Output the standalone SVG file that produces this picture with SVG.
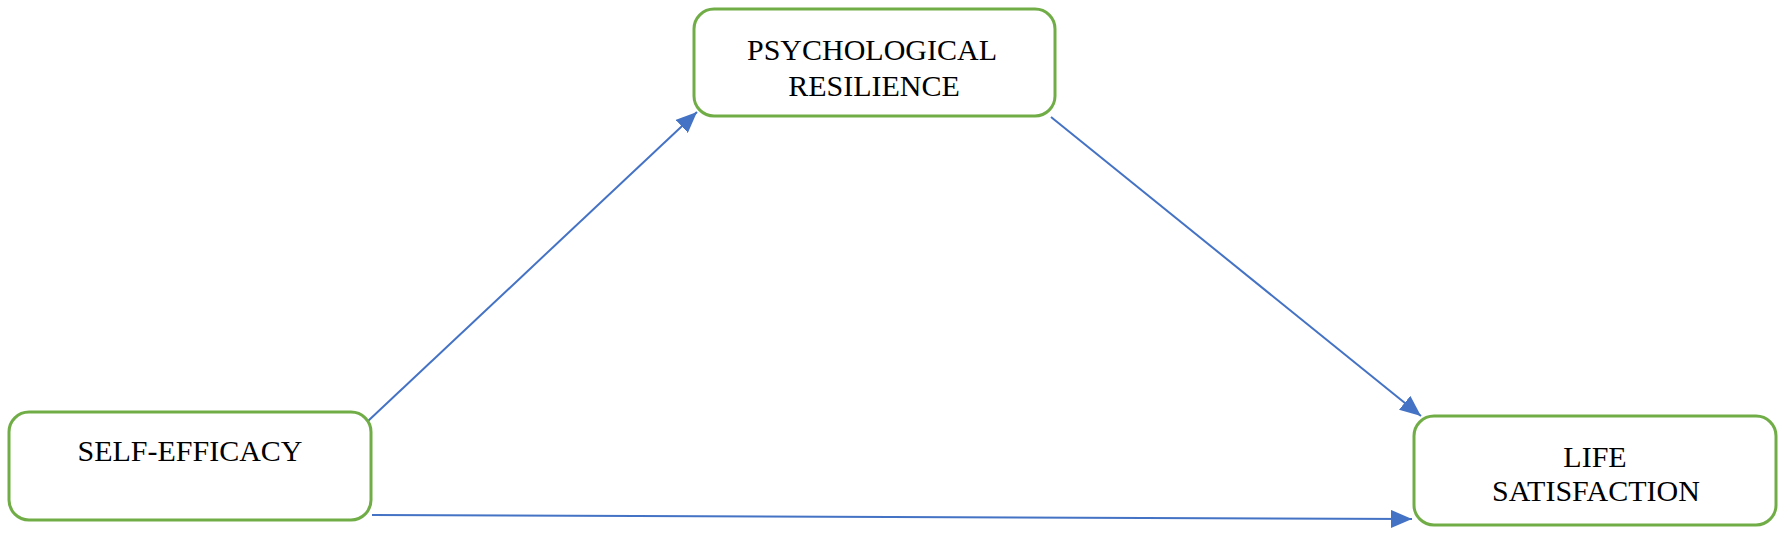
<svg xmlns="http://www.w3.org/2000/svg" width="1784" height="536" viewBox="0 0 1784 536">
<style>
.box{fill:#fff;stroke:#70AD47;stroke-width:3}
.lbl{font-family:"Liberation Serif","Times New Roman",serif;font-size:30px;fill:#000;text-anchor:middle}
.conn{stroke:#4472C4;stroke-width:2;fill:none;marker-end:url(#ah)}
</style>
<defs>
<marker id="ah" markerUnits="userSpaceOnUse" markerWidth="22" markerHeight="18" refX="21" refY="9" orient="auto">
<path d="M0,0 L21,9 L0,18 z" fill="#4472C4"/>
</marker>
</defs>
<rect width="1784" height="536" fill="#fff"/>
<g id="connectors">
<line class="conn" x1="368" y1="421" x2="697" y2="112"/>
<line class="conn" x1="1051" y1="117" x2="1421" y2="416"/>
<line class="conn" x1="372" y1="515" x2="1412" y2="519"/>
</g>
<g id="psychological-resilience">
<rect class="box" x="694" y="9" width="361" height="107" rx="20"/>
<text class="lbl" x="872" y="60">PSYCHOLOGICAL</text>
<text class="lbl" x="874" y="96">RESILIENCE</text>
</g>
<g id="self-efficacy">
<rect class="box" x="9" y="412" width="362" height="108" rx="20"/>
<text class="lbl" x="190" y="461">SELF-EFFICACY</text>
</g>
<g id="life-satisfaction">
<rect class="box" x="1414" y="416" width="362" height="109" rx="20"/>
<text class="lbl" x="1595" y="467">LIFE</text>
<text class="lbl" x="1596" y="501">SATISFACTION</text>
</g>
</svg>
